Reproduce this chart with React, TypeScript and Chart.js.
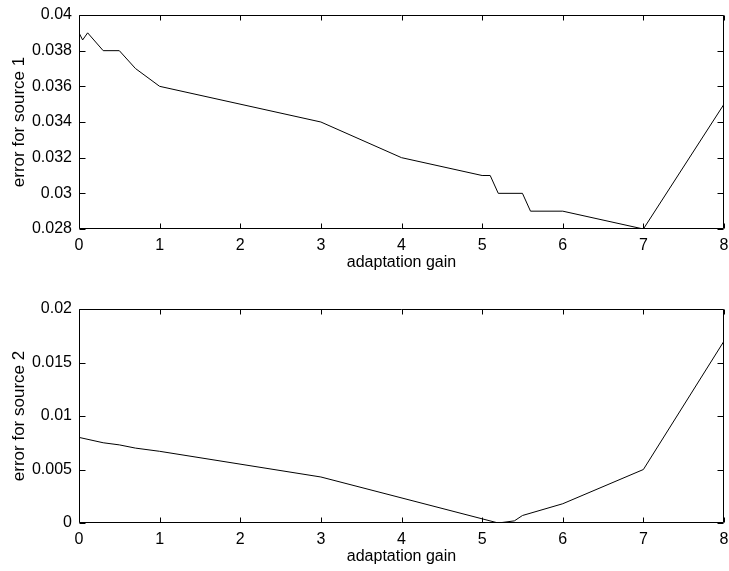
import React, { useEffect, useRef } from 'react';
import { Chart, registerables } from 'chart.js';
Chart.register(...registerables);

// Adaptation gain (x) and error values
const gain1 = [0, 0.045, 0.107, 0.3, 0.5, 0.7, 1, 3, 4, 5, 5.1, 5.2, 5.5, 5.6, 6, 7, 8];
const err1 = [0.039, 0.0386, 0.039, 0.038, 0.038, 0.037, 0.036, 0.034, 0.032, 0.031, 0.031, 0.03, 0.03, 0.029, 0.029, 0.028, 0.035];
const gain2 = [0, 0.3, 0.5, 0.7, 1, 3, 5.2, 5.4, 5.5, 6, 7, 8];
const err2 = [0.008, 0.0075, 0.0073, 0.007, 0.0067, 0.0043, 0, 0.0002, 0.0007, 0.0018, 0.005, 0.017];

const xTicks = [0, 1, 2, 3, 4, 5, 6, 7, 8];
const yTicks1 = [0.028, 0.03, 0.032, 0.034, 0.036, 0.038, 0.04];
const yTicks2 = [0, 0.005, 0.01, 0.015, 0.02];

const xTitle = 'adaptation gain';
const yTitle1 = 'error for source 1';
const yTitle2 = 'error for source 2';

const FONT = "'Liberation Sans', Arial, Helvetica, sans-serif";

const boxPlugin = {
  id: 'matlabBox',
  afterDatasetsDraw(chart: any) {
    const { ctx, chartArea, scales } = chart;
    const { left, right, top, bottom } = chartArea;
    const L = Math.round(left) + 0.5;
    const R = Math.round(right) - 0.5;
    const T = Math.round(top) + 0.5;
    const B = Math.round(bottom) - 0.5;
    ctx.save();
    ctx.strokeStyle = '#000';
    ctx.lineWidth = 1;
    ctx.beginPath();
    ctx.rect(L, T, R - L, B - T);
    ctx.stroke();
    ctx.beginPath();
    scales.x.ticks.forEach((t: any) => {
      const px = Math.round(scales.x.getPixelForValue(t.value)) + 0.5;
      ctx.moveTo(px, B);
      ctx.lineTo(px, B - 5);
      ctx.moveTo(px, T);
      ctx.lineTo(px, T + 5);
    });
    scales.y.ticks.forEach((t: any) => {
      const py = Math.round(scales.y.getPixelForValue(t.value)) + 0.5;
      ctx.moveTo(L, py);
      ctx.lineTo(L + 6, py);
      ctx.moveTo(R, py);
      ctx.lineTo(R - 6, py);
    });
    ctx.stroke();
    ctx.restore();
  },
};

function fmt(v: any) {
  return String(+Number(v).toFixed(4));
}

function makeConfig(
  xs: number[],
  ys: number[],
  yMin: number,
  yMax: number,
  yTicks: number[],
  yTitle: string,
  canvasH: number,
  titlePadBottom: number
): any {
  return {
    type: 'line',
    data: {
      datasets: [
        {
          data: xs.map((x, i) => ({ x, y: ys[i] })),
          borderColor: '#000',
          borderWidth: 1,
          pointRadius: 0,
          tension: 0,
          fill: false,
        },
      ],
    },
    options: {
      responsive: false,
      animation: false,
      devicePixelRatio: 1,
      layout: { padding: { top: 15, right: 5, bottom: 0, left: 0 } },
      plugins: { legend: { display: false }, tooltip: { enabled: false } },
      scales: {
        x: {
          type: 'linear',
          min: 0,
          max: 8,
          grid: { display: false, drawTicks: false },
          border: { display: false },
          afterBuildTicks: (scale: any) => {
            scale.ticks = xTicks.map((v) => ({ value: v }));
          },
          afterFit: (scale: any) => {
            scale.height = canvasH - 229;
            scale.paddingRight = 0;
            scale.paddingLeft = 0;
          },
          ticks: {
            color: '#000',
            font: { family: FONT, size: 16 },
            padding: 7,
            maxRotation: 0,
            callback: (v: any) => fmt(v),
          },
          title: {
            display: true,
            text: xTitle,
            color: '#000',
            font: { family: FONT, size: 16 },
            padding: { top: 0, bottom: titlePadBottom },
          },
        },
        y: {
          type: 'linear',
          min: yMin,
          max: yMax,
          grid: { display: false, drawTicks: false },
          border: { display: false },
          afterBuildTicks: (scale: any) => {
            scale.ticks = yTicks.map((v) => ({ value: v }));
          },
          afterFit: (scale: any) => {
            scale.width = 79;
            scale.paddingTop = 0;
            scale.paddingBottom = 0;
          },
          ticks: {
            color: '#000',
            font: { family: FONT, size: 16 },
            padding: 7,
            callback: (v: any) => fmt(v),
          },
          title: {
            display: true,
            text: yTitle,
            color: '#000',
            font: { family: FONT, size: 17 },
            padding: { top: 9.3, bottom: 0 },
          },
        },
      },
    },
    plugins: [boxPlugin],
  };
}

export default function App() {
  const ref1 = useRef<HTMLCanvasElement>(null);
  const ref2 = useRef<HTMLCanvasElement>(null);

  useEffect(() => {
    document.body.style.margin = '0';
    const c1 = new Chart(
      ref1.current as HTMLCanvasElement,
      makeConfig(gain1, err1, 0.028, 0.04, yTicks1, yTitle1, 285, 12.9)
    );
    const c2 = new Chart(
      ref2.current as HTMLCanvasElement,
      makeConfig(gain2, err2, 0, 0.02, yTicks2, yTitle2, 277, 4.9)
    );
    return () => {
      c1.destroy();
      c2.destroy();
    };
  }, []);

  return (
    <div
      style={{
        position: 'fixed',
        left: 0,
        top: 0,
        width: 729,
        height: 571,
        overflow: 'hidden',
        background: '#fff',
      }}
    >
      <canvas
        ref={ref1}
        width={729}
        height={285}
        style={{ position: 'absolute', left: 0, top: 0, width: 729, height: 285 }}
      />
      <canvas
        ref={ref2}
        width={729}
        height={277}
        style={{ position: 'absolute', left: 0, top: 294, width: 729, height: 277 }}
      />
    </div>
  );
}
